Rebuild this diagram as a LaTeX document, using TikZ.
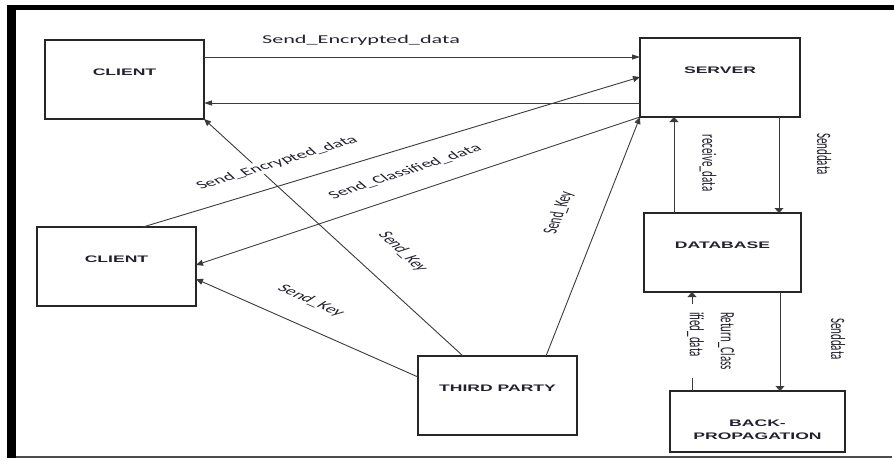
\documentclass[tikz,border=0pt]{standalone}
\usepackage{fontspec}
\setmainfont{Carlito}
\newfontfamily\boxfont{Liberation Sans}
\usepackage{graphicx}
\usetikzlibrary{arrows.meta,calc}
\definecolor{ln}{HTML}{3A3A3A}
\definecolor{tx}{HTML}{22222E}
\tikzset{
  box/.style={draw=black!85, line width=1.1pt, inner sep=0pt, outer sep=0pt,
    text height=7pt, text depth=15pt, text=tx,
    font=\boxfont\bfseries\fontsize{9.5}{13}\selectfont},
  conn/.style={draw=ln, line width=0.9pt},
  tiph/.style={-{Triangle[length=8pt,width=5pt]}},
  tipv/.style={-{Triangle[length=5pt,width=9pt]}},
  tipd/.style={-{Triangle[length=7pt,width=6pt]}},
  lab/.style={font=\fontsize{11}{13}\selectfont, text=tx, fill=white, inner sep=1.5pt}
}
\newcommand{\dlabel}[6][]{%
  \begin{scope}[shift={(#3,#4)},xscale=1.85]
    \node[lab,#1,rotate=#5,transform shape] (#2) at (0,0) {#6};
  \end{scope}}
\newcommand{\sx}[1]{\scalebox{1.85}[1]{#1}}
\begin{document}
\begin{tikzpicture}[x=1pt,y=-1pt]
\useasboundingbox (0,0) rectangle (894,459);
% frame
\fill[black] (7,5) rectangle (16,458);
\fill[black] (7,5) rectangle (894,10);
\draw[black!70, line width=1.5pt] (16,457.2) -- (892,457.2);
% boxes
\node[box, minimum width=159pt, minimum height=79pt] (c1) at (124.5,79.5) {\sx{CLIENT}};
\node[box, minimum width=160pt, minimum height=79pt] (srv) at (720,77.5) {\sx{SERVER}};
\node[box, minimum width=159pt, minimum height=79pt] (c2) at (116.5,266.5) {\sx{CLIENT}};
\node[box, minimum width=157pt, minimum height=79pt] (db) at (722.5,252.5) {\sx{DATABASE}};
\node[box, minimum width=159pt, minimum height=79pt] (tp) at (497.5,395.5) {\sx{THIRD PARTY}};
\node[box, minimum width=175pt, minimum height=61pt, align=center, text height=36pt, text depth=0pt] (bp) at (757.5,421.5) {\sx{BACK-}\\\sx{PROPAGATION}};
% connectors
\draw[conn,tiph] (c1.east |- 0,57) -- (srv.west |- 0,57);
\draw[conn,tiph] (srv.west |- 0,103) -- (c1.east |- 0,103);
\draw[conn,tipd] ($(c2.north west)+(106,0)$) -- (srv.west |- 0,77);
\draw[conn,tipd] (srv.south west) -- (c2.east |- 0,265);
\draw[conn,tipd] ($(tp.north west)+(45,0)$) -- (c1.south east);
\draw[conn,tipd] (tp.west |- 0,377) -- (c2.east |- 0,279);
\draw[conn,tipd] ($(tp.north west)+(128,0)$) -- (srv.south west);
\draw[conn,tipv] (srv.south -| 779,0) -- (db.north -| 779,0);
\draw[conn,tipv] (db.north -| 674,0) -- (srv.south -| 674,0);
\draw[conn,tipv] (db.south -| 780,0) -- (bp.north -| 780,0);
\draw[conn,tipv] (bp.north -| 692,0) -- (db.south -| 692,0);
% labels
\dlabel[font=\fontsize{12}{14}\selectfont]{l1}{361}{40.5}{0}{Send\_Encrypted\_data}
\dlabel{l2}{277}{163}{29.5}{Send\_Encrypted\_data}
\dlabel{l3}{405}{172}{31.5}{Send\_Classified\_data}
\dlabel{l4}{403}{252}{-59.5}{Send\_Key}
\dlabel{l5}{311}{301}{-39.5}{Send\_Key}
\dlabel{l6}{559}{213}{77.7}{Send\_Key}
\dlabel{l7}{708}{163}{-90}{receive\_data}
\dlabel{l8}{824}{154}{-90}{Senddata}
\dlabel{l9}{838}{339}{-90}{Senddata}
\dlabel[align=left, inner xsep=8pt, font=\fontsize{11}{16.8}\selectfont]{l10}{711}{341}{-90}{Return\_Class\\ified\_data}
\end{tikzpicture}
\end{document}
